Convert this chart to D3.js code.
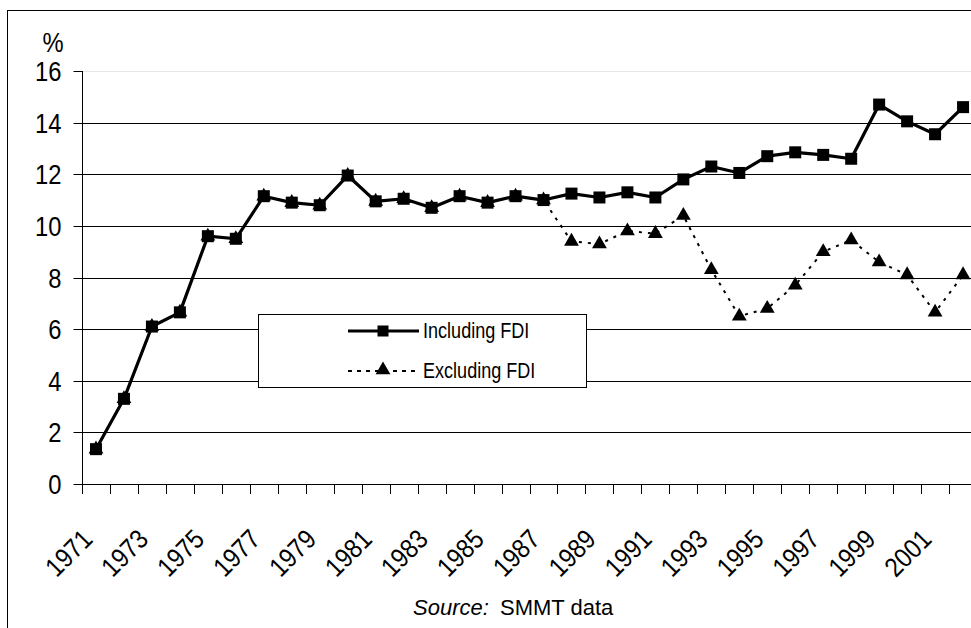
<!DOCTYPE html>
<html>
<head>
<meta charset="utf-8">
<script src="https://cdn.jsdelivr.net/npm/d3@7"></script>
<style>
  html, body { margin: 0; padding: 0; background: #fff; overflow: hidden; }
  svg { display: block; }
  text { font-family: "Liberation Sans", Arial, sans-serif; fill: #000; }
</style>
</head>
<body>
<svg id="chart" width="971" height="628"></svg>
<script>
// ---- Data ----
const years = d3.range(1971, 2003).map(String);
const includingFDI = [1.35, 3.3, 6.1, 6.65, 9.6, 9.5, 11.15, 10.9, 10.8, 11.95, 10.95, 11.05,
  10.7, 11.15, 10.9, 11.15, 11.0, 11.25, 11.1, 11.3, 11.1, 11.8, 12.3, 12.05, 12.7, 12.85,
  12.75, 12.6, 14.7, 14.05, 13.55, 14.6];
const excludingFDI = [1.35, 3.3, 6.1, 6.65, 9.6, 9.5, 11.15, 10.9, 10.8, 11.95, 10.95, 11.05,
  10.7, 11.15, 10.9, 11.15, 11.0, 9.4, 9.3, 9.8, 9.7, 10.4, 8.3, 6.5, 6.8, 7.7,
  9.0, 9.45, 8.6, 8.1, 6.65, 8.1];
const yTicks = [0, 2, 4, 6, 8, 10, 12, 14, 16];
const xLabels = years.filter((d, i) => i % 2 === 0);
const seriesNames = ["Including FDI", "Excluding FDI"];
const unitLabel = "%";

// ---- Layout ----
const svg = d3.select("#chart");
const plotLeft = 82, plotTop = 71, plotBottom = 484, band = 27.97;
const plotRight = plotLeft + band * years.length;
const axisScaleX = 0.88;

// outer frame (extends beyond viewport on right/bottom)
svg.append("rect").attr("x", 7.5).attr("y", 10.5).attr("width", 1000).attr("height", 700)
  .attr("fill", "none").attr("stroke", "#000").attr("stroke-width", 1);

const x = d3.scaleBand().domain(years).range([plotLeft, plotRight]).padding(0);
const y = d3.scaleLinear().domain([0, 16]).range([plotBottom, plotTop]);
const cx = (i) => x(years[i]) + x.bandwidth() / 2;

// gridlines
svg.append("g").selectAll("line").data(yTicks.filter(d => d > 0)).join("line")
  .attr("x1", plotLeft).attr("x2", plotRight)
  .attr("y1", d => Math.round(y(d)) + 0.5).attr("y2", d => Math.round(y(d)) + 0.5)
  .attr("stroke", d => d === 16 ? "#e6e6e6" : "#000").attr("stroke-width", 1);

// y axis
const yAxis = d3.axisLeft(y).tickValues(yTicks).tickSize(9).tickPadding(0).tickFormat(d3.format("d"));
const gy = svg.append("g").attr("transform", `translate(${plotLeft + 0.5},0)`).call(yAxis);
gy.select(".domain").attr("d", `M0,${plotTop}V${plotBottom + 0.5}`).attr("stroke", "#000");
gy.selectAll(".tick line").attr("stroke", "#000");
gy.selectAll(".tick").attr("transform", d => `translate(0,${Math.round(y(d)) + 0.5})`);
gy.selectAll(".tick text").attr("font-size", 27).attr("font-family", null)
  .attr("x", null).attr("dy", "0.36em")
  .attr("transform", `translate(-21,0) scale(${axisScaleX},1)`);

// % label
svg.append("text").attr("text-anchor", "middle").attr("font-size", 27)
  .attr("transform", `translate(53,52) scale(${axisScaleX},1)`).text(unitLabel);

// x axis line + ticks at band boundaries
const gx = svg.append("g");
gx.append("line").attr("x1", plotLeft).attr("x2", plotRight)
  .attr("y1", Math.round(plotBottom) + 0.5).attr("y2", Math.round(plotBottom) + 0.5).attr("stroke", "#000");
gx.selectAll("line.t").data(years.concat(["end"])).join("line").attr("class", "t")
  .attr("x1", d => Math.round(d === "end" ? plotRight : x(d)) + 0.5)
  .attr("x2", d => Math.round(d === "end" ? plotRight : x(d)) + 0.5)
  .attr("y1", plotBottom).attr("y2", plotBottom + 10).attr("stroke", "#000");
gx.selectAll("text").data(xLabels).join("text")
  .attr("text-anchor", "end").attr("font-size", 27)
  .attr("transform", d => `translate(${x(d) + x.bandwidth() / 2 - 2},${plotBottom + 57}) rotate(-45) scale(${axisScaleX},1)`)
  .text(d => d);

// lines
const line = d3.line().x((d, i) => cx(i)).y(d => y(d));

// Excluding series (dotted) drawn first
svg.append("path").datum(excludingFDI).attr("d", line).attr("fill", "none")
  .attr("stroke", "#000").attr("stroke-width", 2).attr("stroke-dasharray", "3,6");
const tri = d3.symbol().type(d3.symbolTriangle).size(95);
svg.append("g").selectAll("path").data(excludingFDI).join("path")
  .attr("d", tri).attr("fill", "#000")
  .attr("transform", (d, i) => `translate(${cx(i)},${y(d)})`);

svg.append("path").datum(includingFDI).attr("d", line).attr("fill", "none")
  .attr("stroke", "#000").attr("stroke-width", 3.2).attr("stroke-linejoin", "round");
svg.append("g").selectAll("rect").data(includingFDI).join("rect")
  .attr("x", (d, i) => cx(i) - 6)
  .attr("y", d => y(d) - 6).attr("width", 12).attr("height", 12).attr("fill", "#000");

// legend
const lg = svg.append("g");
lg.append("rect").attr("x", 258.5).attr("y", 314.5).attr("width", 328).attr("height", 73)
  .attr("fill", "#fff").attr("stroke", "#000");
lg.append("line").attr("x1", 348).attr("x2", 419).attr("y1", 331).attr("y2", 331)
  .attr("stroke", "#000").attr("stroke-width", 3.2);
lg.append("rect").attr("x", 383 - 5.5).attr("y", 331 - 5.5).attr("width", 11).attr("height", 11).attr("fill", "#000");
lg.append("line").attr("x1", 348).attr("x2", 419).attr("y1", 371).attr("y2", 371)
  .attr("stroke", "#000").attr("stroke-width", 2).attr("stroke-dasharray", "4,5");
lg.append("path").attr("d", tri).attr("fill", "#000").attr("transform", "translate(383,370)");
lg.selectAll("text").data(seriesNames).join("text")
  .attr("font-size", 21.5)
  .attr("transform", (d, i) => `translate(423,${338 + i * 40}) scale(0.84,1)`).text(d => d);

// source
const src = svg.append("text").attr("x", 413).attr("y", 615).attr("font-size", 22);
src.append("tspan").attr("font-style", "italic").text("Source:");
src.append("tspan").attr("x", 500).text("SMMT data");
</script>
</body>
</html>
